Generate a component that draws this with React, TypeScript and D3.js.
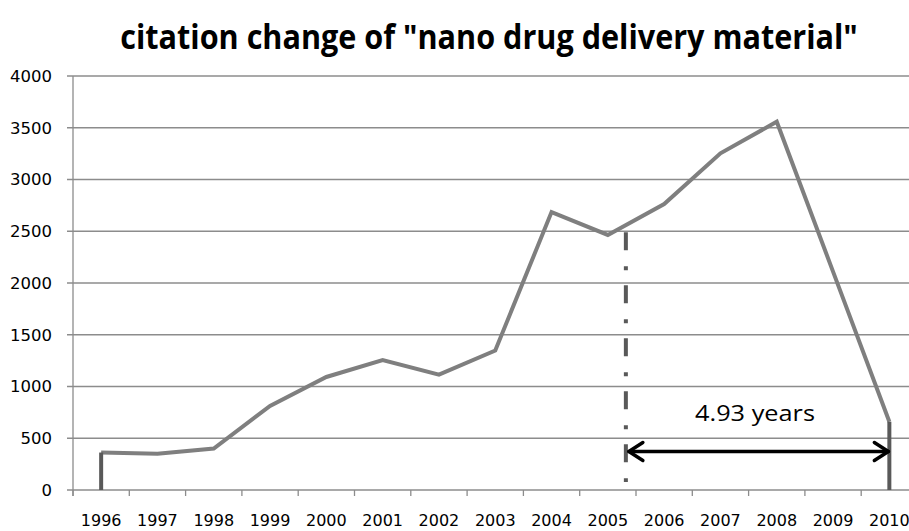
import React, { useLayoutEffect, useRef } from "react";
import * as d3 from "d3";

const years = ["1996","1997","1998","1999","2000","2001","2002","2003","2004","2005","2006","2007","2008","2009","2010"];
const citations = [362, 350, 400, 812, 1092, 1256, 1115, 1348, 2685, 2464, 2763, 3253, 3558, 2110, 660];
const yTicks = [0, 500, 1000, 1500, 2000, 2500, 3000, 3500, 4000];
const titleText = 'citation change of "nano drug delivery material"';
const annotationText = "4.93 years";
const markerYear = 2005.32; // position of the dash-dot line (fractional year)

const W = 909, H = 531;
const left = 73, right = 917.5, top = 76, bottom = 490;

function FitText(props: { x: number; y: number; width: number; text: string; style: any }) {
  const ref = useRef<SVGTextElement>(null);
  useLayoutEffect(() => {
    const el = ref.current;
    if (!el) return;
    el.removeAttribute("transform");
    const w = el.getComputedTextLength();
    const s = w > 0 ? props.width / w : 1;
    el.setAttribute("transform", `translate(${props.x},${props.y}) scale(${s},1)`);
  }, [props.x, props.y, props.width, props.text]);
  return (
    <text ref={ref} x={0} y={0} textAnchor="middle" transform={`translate(${props.x},${props.y}) scale(0.8,1)`} {...props.style}>
      {props.text}
    </text>
  );
}

export default function App() {
  const x = d3.scaleBand<string>().domain(years).range([left, right]).padding(0);
  const cx = (yr: string) => (x(yr) as number) + x.bandwidth() / 2;
  const y = d3.scaleLinear().domain([0, 4000]).range([bottom, top]);
  const yearPos = d3.scaleLinear().domain([1996, 2010]).range([cx("1996"), cx("2010")]);

  const line = d3.line<number>().x((_, i) => cx(years[i])).y((d) => y(d));
  const pathD = line(citations) as string;

  const boundaries = d3.range(years.length + 1).map((i) => left + i * x.bandwidth());
  const gridColor = "#8c8c8c";
  const xm = yearPos(markerYear);
  const xEnd = cx("2010");
  const ay = 451.5;
  const arrowL = xm + 3;
  const arrowR = xEnd - 1;

  return (
    <svg width={W} height={H} style={{ position: "absolute", left: 0, top: 0, background: "#fff" }}>
      <rect x={0} y={0} width={W} height={H} fill="#fff" />
      <FitText x={489} y={49} width={738} text={titleText}
        style={{ fontFamily: "'Open Sans', 'Liberation Sans', sans-serif", fontWeight: "bold", fontSize: 34, fill: "#000" }} />

      {yTicks.map((t) => (
        <g key={t}>
          <line x1={67} x2={W + 20} y1={y(t)} y2={y(t)} stroke={gridColor} strokeWidth={1.3} />
          <text x={52} y={y(t)} dy="0.36em" textAnchor="end" fontFamily="'DejaVu Sans', Verdana, sans-serif"
            fontSize={16.5} fill="#000">{t}</text>
        </g>
      ))}
      <line x1={left} x2={left} y1={top} y2={bottom + 6} stroke={gridColor} strokeWidth={1.3} />
      {boundaries.map((b, i) => (
        <line key={i} x1={b} x2={b} y1={bottom} y2={bottom + 6} stroke={gridColor} strokeWidth={1.3} />
      ))}
      {years.map((yr) => (
        <text key={yr} x={cx(yr)} y={526} textAnchor="middle" fontFamily="'DejaVu Sans', Verdana, sans-serif"
          fontSize={16} fill="#000">{yr}</text>
      ))}

      <path d={pathD} fill="none" stroke="#7f7f7f" strokeWidth={4} strokeLinejoin="miter" />
      <line x1={cx("1996")} x2={cx("1996")} y1={y(citations[0])} y2={y(0)} stroke="#595959" strokeWidth={4} />
      <line x1={cx("2010")} x2={cx("2010")} y1={y(citations[citations.length - 1])} y2={y(0)} stroke="#595959" strokeWidth={4} />

      <line x1={xm} x2={xm} y1={y(2500) + 1} y2={482} stroke="#595959" strokeWidth={4}
        strokeDasharray="18 16 4 15" />

      <g stroke="#000" strokeWidth={3.5} fill="none" strokeLinecap="round" strokeLinejoin="round">
        <line x1={arrowL} x2={arrowR} y1={ay} y2={ay} />
        <polyline points={`${arrowL + 14},${ay - 9} ${arrowL},${ay} ${arrowL + 14},${ay + 9}`} />
        <polyline points={`${arrowR - 14},${ay - 9} ${arrowR},${ay} ${arrowR - 14},${ay + 9}`} />
      </g>
      <FitText x={755} y={421} width={120} text={annotationText}
        style={{ fontFamily: "'Open Sans', 'Liberation Sans', sans-serif", fontSize: 21, fill: "#000" }} />
    </svg>
  );
}
